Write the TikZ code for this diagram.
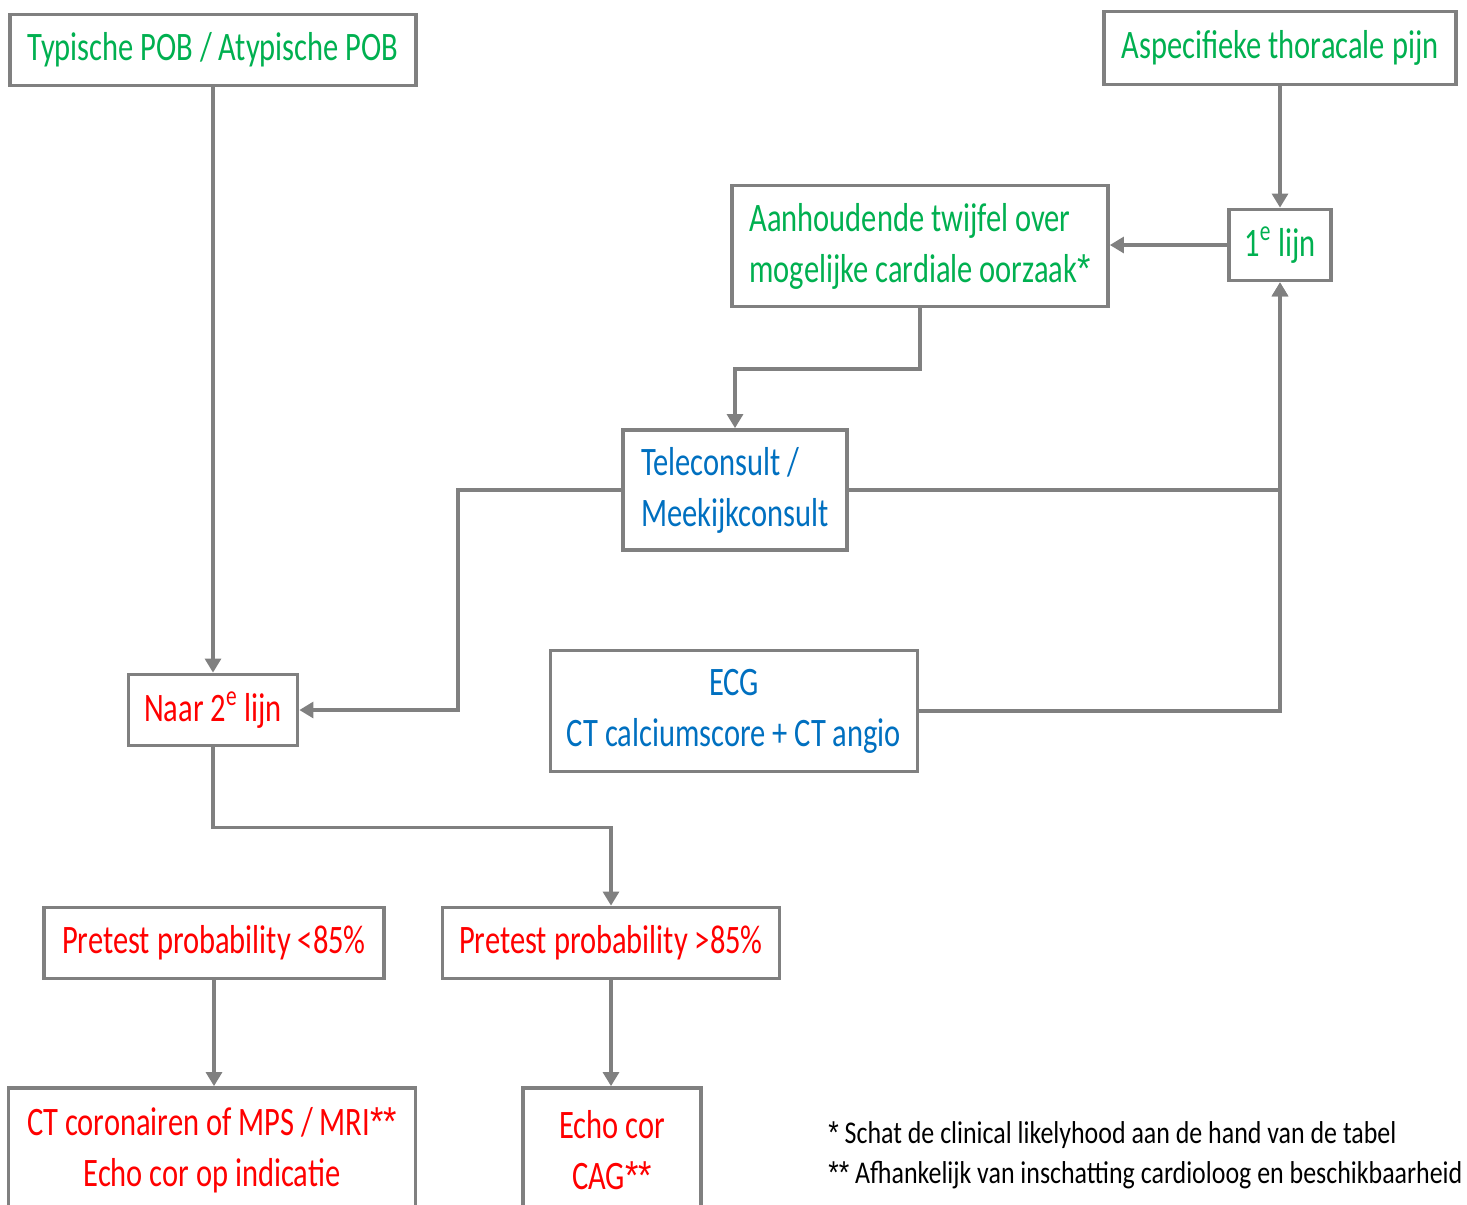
\documentclass[tikz,border=0pt]{standalone}
\usepackage{fontspec}
\setmainfont{Carlito}[FakeStretch=0.755]
\newfontfamily\notefont{Carlito}[FakeStretch=0.82]
\newfontfamily\starfont{Liberation Sans}[FakeStretch=0.85]
\newcommand\ster{{\starfont *}}
\usetikzlibrary{arrows.meta}
\definecolor{boxgray}{RGB}{128,128,128}
\definecolor{pgreen}{RGB}{0,176,80}
\definecolor{pred}{RGB}{255,0,0}
\definecolor{pblue}{RGB}{0,112,192}

\begin{document}
\begin{tikzpicture}[x=0.02cm, y=-0.02cm,
  box/.style={draw=boxgray, line width=2.1pt, fill=white, align=center, inner sep=0pt,
    font=\fontsize{23}{29}\selectfont},
  flow/.style={draw=boxgray, line width=2.1pt, -{Triangle[length=8pt,width=9pt]}},
  note/.style={anchor=west, inner sep=0pt, font=\notefont\fontsize{18}{22}\selectfont}]
\useasboundingbox (0,0) rectangle (1467,1204);
% top row
\node[box, text=pgreen, minimum width=8.12cm, minimum height=1.42cm] (typ) at (213,50) {Typische POB / Atypische POB};
\node[box, text=pgreen, minimum width=7.04cm, minimum height=1.46cm] (asp) at (1280,48) {Aspecifieke thoracale pijn};
\node[box, text=pgreen, minimum width=2.04cm, minimum height=1.42cm] (eerste) at (1280,245) {1\textsuperscript{e} lijn};
\node[box, text=pgreen, align=left, minimum width=7.52cm, minimum height=2.42cm] (twijfel) at (920,246) {Aanhoudende twijfel over\\mogelijke cardiale oorzaak\ster};
% middle
\node[box, text=pblue, align=left, minimum width=4.48cm, minimum height=2.40cm] (tele) at (735,490) {Teleconsult /\\Meekijkconsult};
\node[box, text=pblue, minimum width=7.34cm, minimum height=2.42cm] (ecg) at (734,711) {ECG\\CT calciumscore + CT angio};
\node[box, text=pred, minimum width=3.38cm, minimum height=1.42cm] (naar) at (213,710) {Naar 2\textsuperscript{e} lijn};
% bottom
\node[box, text=pred, minimum width=6.80cm, minimum height=1.42cm] (pre1) at (214,943) {Pretest probability <85\%};
\node[box, text=pred, minimum width=6.74cm, minimum height=1.42cm] (pre2) at (611,943) {Pretest probability >85\%};
\node[box, text=pred, minimum width=8.14cm, minimum height=2.48cm] (ct) at (212,1150) {CT coronairen of MPS / MRI\ster\ster\\Echo cor op indicatie};
\node[box, text=pred, minimum width=3.56cm, minimum height=2.48cm] (echo) at (612,1150) {Echo cor\\CAG\ster\ster};
% footnotes
\node[note] (n1) at (828,1135) {\ster{} Schat de clinical likelyhood aan de hand van de tabel};
\node[note] (n2) at (828,1175) {\ster\ster{} Afhankelijk van inschatting cardioloog en beschikbaarheid};
% arrows
\draw[flow] (typ) -- (naar);
\draw[flow] (asp) -- (eerste);
\draw[flow] (eerste.west) -- (twijfel.east |- eerste.west);
\draw[flow] (twijfel.south) -- ++(0,61) -| (tele.north);
\draw[flow] (tele.east) -| (eerste.south);
\draw[flow] (ecg.east) -| (eerste.south);
\draw[flow] (tele.west) -- ++(-163,0) |- (naar.east);
\draw[flow] (naar.south) -- ++(0,80) -| (pre2.north);
\draw[flow] (pre1.south) -- (pre1.south |- ct.north);
\draw[flow] (pre2.south) -- (pre2.south |- echo.north);
\end{tikzpicture}
\end{document}
